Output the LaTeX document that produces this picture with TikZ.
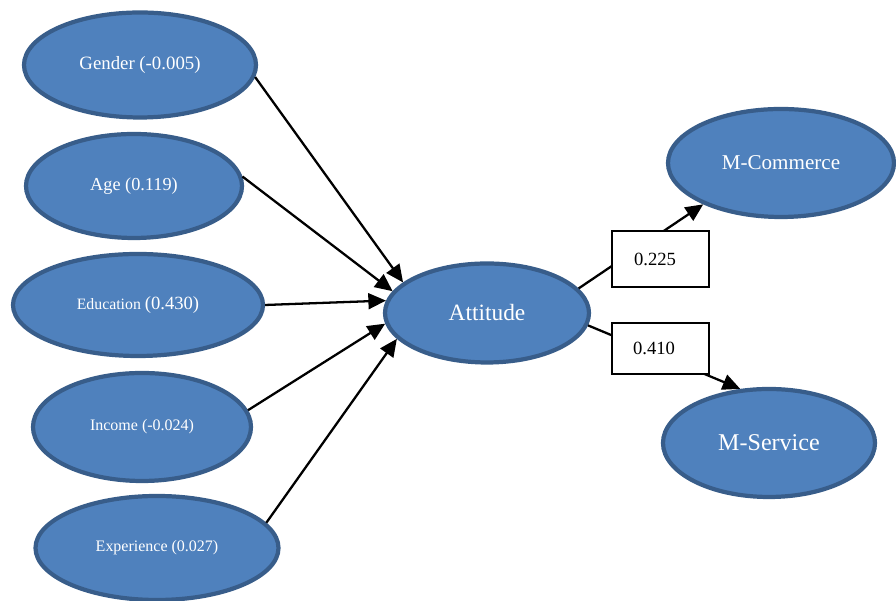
\documentclass[tikz,border=0pt]{standalone}
\usepackage{fontspec}
\setmainfont{Liberation Serif}
\usepackage{tikz}
\usetikzlibrary{shapes.geometric,arrows.meta}

\begin{document}
\begin{tikzpicture}[
	factor/.style={ellipse, draw=factorline, fill=factorblue, line width=2.4pt, inner sep=0pt, text=white},
	coefbox/.style={draw=black, fill=white, line width=0.6pt, inner sep=0pt, font=\fontsize{10.6}{12}\selectfont},
	path/.style={line width=1.3pt, -{Triangle[length=10pt,width=9pt]}}
	]
	% Define colors
	\definecolor{factorblue}{HTML}{4F81BD}   % office blue
	\definecolor{factorline}{HTML}{385D8A}   % darker rim
	
	\useasboundingbox (0,0) rectangle (17.92,12.02);
	
	% Demographic factors
	\node[factor, minimum width=4.64cm, minimum height=2.10cm, font=\fontsize{10.7}{12}\selectfont] (gender) at (2.80,10.72) {Gender (-0.005)};
	\node[factor, minimum width=4.32cm, minimum height=2.08cm, font=\fontsize{10.4}{12}\selectfont] (age) at (2.68,8.30) {Age (0.119)};
	\node[factor, minimum width=5.00cm, minimum height=2.04cm] (education) at (2.76,5.92) {\fontsize{9}{11}\selectfont Education \fontsize{10.6}{12}\selectfont(0.430)};
	\node[factor, minimum width=4.36cm, minimum height=2.16cm, font=\fontsize{9.1}{11}\selectfont] (income) at (2.84,3.48) {Income (-0.024)};
	\node[factor, minimum width=4.86cm, minimum height=2.08cm, font=\fontsize{9.1}{11}\selectfont] (experience) at (3.14,1.06) {Experience (0.027)};
	
	% Mediator and outcomes
	\node[factor, minimum width=4.08cm, minimum height=1.98cm, font=\fontsize{13.3}{15}\selectfont] (attitude) at (9.74,5.76) {Attitude};
	\node[factor, minimum width=4.52cm, minimum height=2.16cm, font=\fontsize{12}{14}\selectfont] (mcommerce) at (15.62,8.76) {M-Commerce};
	\node[factor, minimum width=4.24cm, minimum height=2.16cm, font=\fontsize{13.7}{15}\selectfont] (mservice) at (15.38,3.16) {M-Service};
	
	% Paths into attitude
	\draw[path] (gender.-6) -- (attitude.160);
	\draw[path] (age.5) -- (attitude.167);
	\draw[path] (education.0) -- (attitude.173);
	\draw[path] (income.9) -- (attitude.186);
	\draw[path] (experience.13) -- (attitude.196);
	
	% Paths out of attitude
	\draw[path] (attitude.15) -- (mcommerce.208);
	\draw[path] (attitude.-7) -- (mservice.118);
	
	% Coefficient boxes
	\node[coefbox, minimum width=1.94cm, minimum height=1.12cm] (coefcom) at (13.21,6.84) {\raisebox{-0.12cm}{\hspace*{-0.22cm}0.225}};
	\node[coefbox, minimum width=1.94cm, minimum height=1.02cm] (coefser) at (13.21,5.05) {\raisebox{-0.1cm}{\hspace*{-0.26cm}0.410}};
\end{tikzpicture}
\end{document}
